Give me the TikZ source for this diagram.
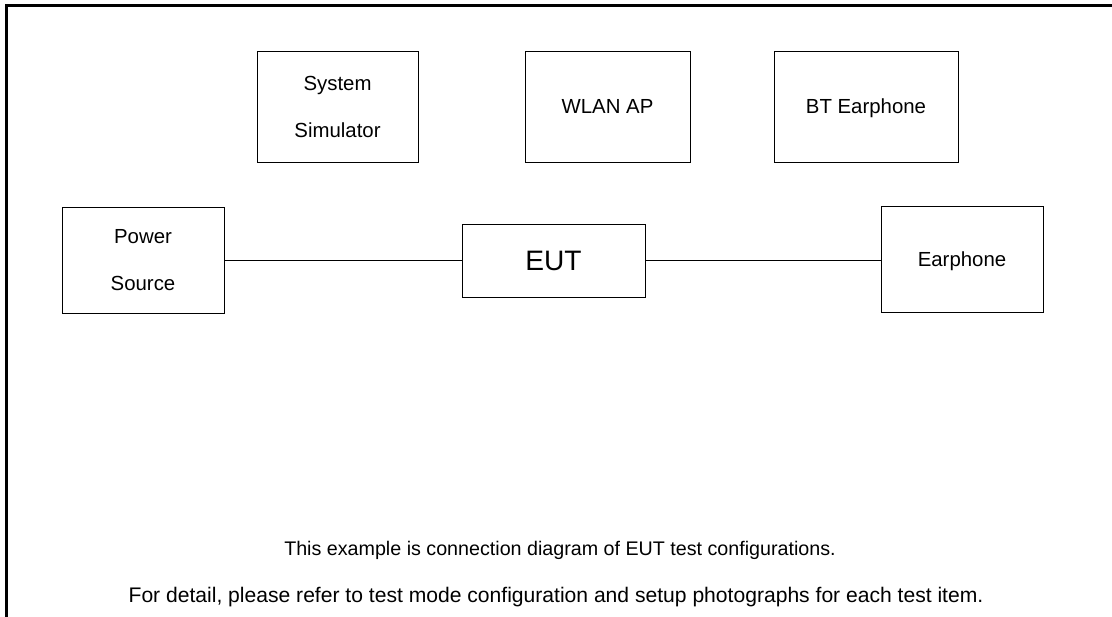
\documentclass[tikz,border=0pt]{standalone}
\usepackage{fontspec}
\setmainfont{Liberation Sans}
\begin{document}
\begin{tikzpicture}[x=0.025cm,y=-0.025cm,
  unit/.style={draw,line width=0.6pt,inner sep=0pt,align=center,
    font=\fontsize{14.5}{33.4}\selectfont},
  oneline/.style={text height=10.5pt,text depth=0pt},
  wire/.style={line width=0.6pt}]
\useasboundingbox (0,0) rectangle (1112,617);
% frame, top and left side only
\draw[line width=1.6pt] (1112,5.5) -- (6.5,5.5) -- (6.5,617);
% support units
\node[unit,minimum width=4.025cm,minimum height=2.775cm] (sim) at (337.5,106.5) {System\\Simulator};
\node[unit,oneline,minimum width=4.125cm,minimum height=2.775cm] (wlan) at (607.5,106.5) {WLAN AP};
\node[unit,oneline,minimum width=4.6cm,minimum height=2.775cm] (bt) at (866,106.5) {BT Earphone};
% connected units
\node[unit,minimum width=4.05cm,minimum height=2.65cm] (power) at (143,260) {Power\\Source};
\node[unit,minimum width=4.575cm,minimum height=1.825cm,font=\fontsize{20}{24}\selectfont] (eut) at (553.5,260.5) {EUT};
\node[unit,oneline,minimum width=4.05cm,minimum height=2.65cm] (ear) at (962,259) {Earphone};
\draw[wire] (power.east |- eut) -- (eut.west);
\draw[wire] (eut.east) -- (ear.west |- eut);
% notes
\node[font=\fontsize{14}{17}\selectfont] (note1) at (560,550) {This example is connection diagram of EUT test configurations.};
\node[font=\fontsize{15}{18}\selectfont] (note2) at (556,597) {For detail, please refer to test mode configuration and setup photographs for each test item.};
\end{tikzpicture}
\end{document}
